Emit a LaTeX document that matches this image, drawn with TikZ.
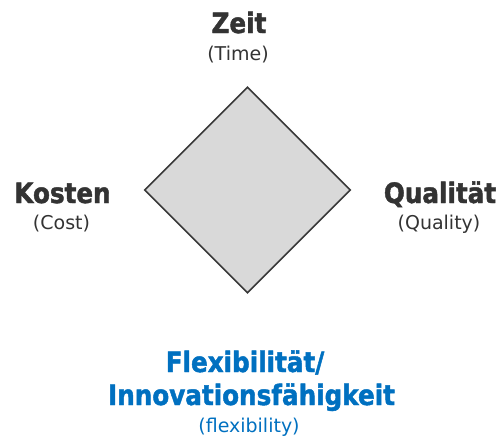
\documentclass[tikz,border=0pt]{standalone}
\usepackage{fontspec}
\setmainfont{DejaVu Sans}
\newfontfamily\headfont{DejaVu Sans}[FakeStretch=0.88, BoldFeatures={FakeBold=1.6}]
\usetikzlibrary{shapes.geometric}
\definecolor{txtgray}{HTML}{333333}
\definecolor{flexblue}{HTML}{0070C0}
\definecolor{boxfill}{HTML}{D9D9D9}
\definecolor{boxline}{HTML}{383838}
\tikzset{
  headlbl/.style={anchor=base, inner sep=0pt, text=txtgray,
    font=\headfont\bfseries\fontsize{28}{28}\selectfont},
  sublbl/.style={anchor=base, inner sep=0pt, text=txtgray,
    font=\fontsize{19}{19}\selectfont},
  flexhead/.style={headlbl, text=flexblue},
  flexsub/.style={sublbl, text=flexblue},
  square/.style={diamond, draw=boxline, fill=boxfill, line width=1.6pt,
    minimum width=206pt, minimum height=206pt, inner sep=0pt}
}
\begin{document}
\begin{tikzpicture}[x=1pt,y=-1pt]
\useasboundingbox (0,0) rectangle (501,439);
% central quadrant shape
\node[square] (sq) at (247.5,190) {};
% top: time
\node[headlbl] (zeit) at (239,33) {Zeit};
\node[sublbl] (time) at (238,60) {(Time)};
% left: cost
\node[headlbl] (kosten) at (62.5,203) {Kosten};
\node[sublbl] (cost) at (61.5,229) {(Cost)};
% right: quality
\node[headlbl] (qual) at (440,203) {Qualität};
\node[sublbl] (quality) at (439,229) {(Quality)};
% bottom: flexibility
\node[flexhead] (flex) at (245,372) {Flexibilität/};
\node[flexhead] (innov) at (251.5,405) {Innovationsfähigkeit};
\node[flexsub] (flexen) at (249,432) {(flexibility)};
\end{tikzpicture}
\end{document}
